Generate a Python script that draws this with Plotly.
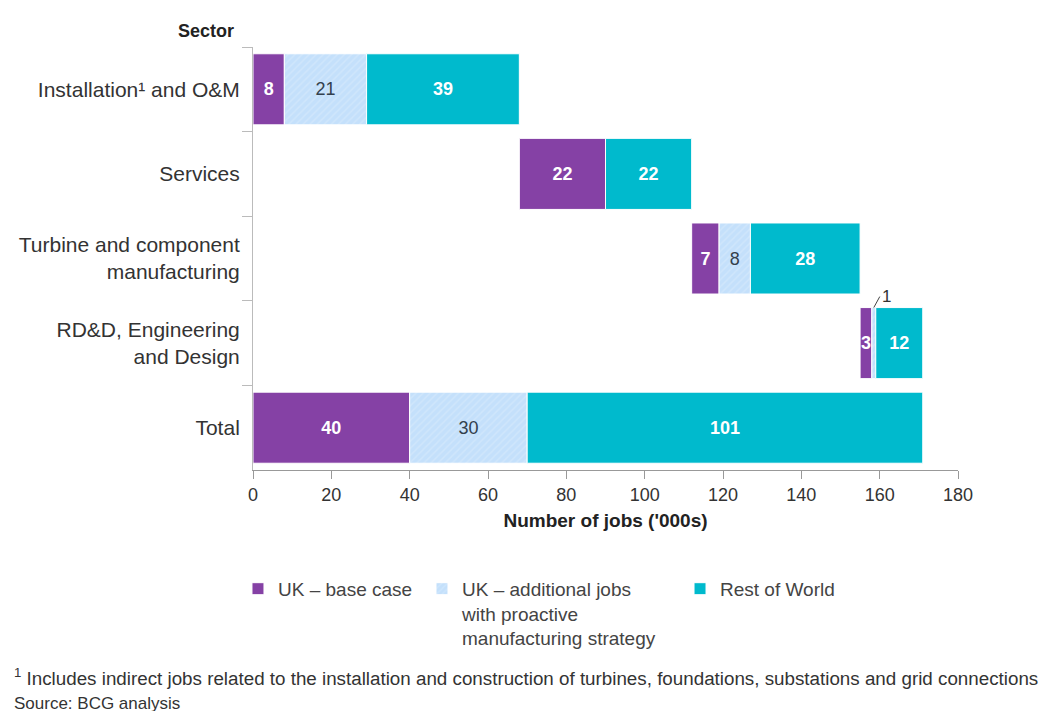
import plotly.graph_objects as go

categories = ["Installation¹ and O&M", "Services", "Turbine and component<br>manufacturing",
              "RD&D, Engineering<br>and Design", "Total"]
uk_base = [8, 22, 7, 3, 40]
uk_additional = [21, 0, 8, 1, 30]
rest_of_world = [39, 22, 28, 12, 101]
series_names = ["UK – base case", "UK – additional jobs<br>with proactive<br>manufacturing strategy", "Rest of World"]
x_ticks = [0, 20, 40, 60, 80, 100, 120, 140, 160, 180]

# waterfall offsets: each sector starts where previous sector ends; Total starts at 0
starts = []
running = 0
for i in range(len(categories) - 1):
    starts.append(running)
    running += uk_base[i] + uk_additional[i] + rest_of_world[i]
starts.append(0)

base1 = starts
base2 = [s + a for s, a in zip(starts, uk_base)]
base3 = [s + a + b for s, a, b in zip(starts, uk_base, uk_additional)]

PURPLE = "#8541a5"
LIGHT = "#c4e0fb"
TEAL = "#00bacd"
BAR_W = 0.84
FONT = "Liberation Sans, Arial, sans-serif"

fig = go.Figure()
fig.add_trace(go.Bar(
    y=categories, x=uk_base, base=base1, orientation="h", name=series_names[0],
    marker=dict(color=PURPLE, line=dict(color="white", width=1)), width=BAR_W,
    text=[str(v) for v in uk_base], textposition="inside", insidetextanchor="middle",
    constraintext="none", textangle=0, legend="legend",
    insidetextfont=dict(color="white", size=18, family=FONT, weight="bold"),
))
fig.add_trace(go.Bar(
    y=categories, x=uk_additional, base=base2, orientation="h", name=series_names[1],
    marker=dict(color=LIGHT, line=dict(color="white", width=1),
                pattern=dict(shape="/", fgcolor="#d9ecfd", bgcolor=LIGHT, size=5, solidity=0.3)),
    width=BAR_W, legend="legend2",
    text=[str(v) if v > 1 else "" for v in uk_additional], textposition="inside",
    insidetextanchor="middle", constraintext="none", textangle=0,
    insidetextfont=dict(color="#33404d", size=18, family=FONT),
))
fig.add_trace(go.Bar(
    y=categories, x=rest_of_world, base=base3, orientation="h", name=series_names[2],
    marker=dict(color=TEAL, line=dict(color="white", width=1)), width=BAR_W,
    text=[str(v) for v in rest_of_world], textposition="inside", insidetextanchor="middle",
    constraintext="none", textangle=0, legend="legend3",
    insidetextfont=dict(color="white", size=18, family=FONT, weight="bold"),
))

# small value label with leader for RD&D additional jobs
idx = 3
fig.add_annotation(
    x=base2[idx] + uk_additional[idx] / 2, y=idx - BAR_W / 2,
    text=str(uk_additional[idx]), showarrow=True, arrowhead=0, arrowwidth=1,
    arrowcolor="#444", ax=6, ay=-11, xanchor="left", yanchor="middle",
    font=dict(size=17, color="#333", family=FONT), xref="x", yref="y",
)

fig.add_annotation(
    text="<b>Sector</b>", xref="paper", yref="paper", x=-0.024, y=1.038,
    xanchor="right", yanchor="middle", showarrow=False,
    font=dict(size=18, color="#222", family=FONT),
)
fig.add_annotation(
    text="<sup>1</sup> Includes indirect jobs related to the installation and construction of turbines, foundations, substations and grid connections",
    xref="paper", yref="paper", x=-0.342, y=-0.489, xanchor="left", yanchor="middle",
    showarrow=False, font=dict(size=18.8, color="#333", family=FONT),
)
fig.add_annotation(
    text="Source: BCG analysis", xref="paper", yref="paper", x=-0.342, y=-0.551,
    xanchor="left", yanchor="middle", showarrow=False,
    font=dict(size=17, color="#333", family=FONT),
)

legend_common = dict(orientation="v", yanchor="top", xanchor="left", valign="top",
                     font=dict(size=19, color="#444", family=FONT), itemclick=False,
                     bgcolor="rgba(0,0,0,0)", y=-0.236)
fig.update_layout(
    width=1048, height=711,
    margin=dict(l=245, r=98, t=39, b=249),
    barmode="overlay",
    plot_bgcolor="white", paper_bgcolor="white",
    showlegend=True,
    legend=dict(x=-0.0213, **legend_common),
    legend2=dict(x=0.2397, **legend_common),
    legend3=dict(x=0.6057, **legend_common),
    font=dict(family=FONT, color="#333"),
)
fig.update_xaxes(
    range=[0, 180], tickvals=x_ticks, ticktext=[str(t) for t in x_ticks],
    showgrid=False, zeroline=False, showline=True, linecolor="#999", linewidth=1,
    ticks="outside", ticklen=8, tickcolor="#999",
    tickfont=dict(size=18, color="#333", family=FONT),
    title=dict(text="<b>Number of jobs ('000s)</b>", font=dict(size=19, color="#222", family=FONT), standoff=10),
)
fig.update_yaxes(
    autorange="reversed", showgrid=False, showline=True, linecolor="#bbb", linewidth=1,
    ticks="outside", ticklen=10, tickcolor="#bbb", tickson="boundaries",
    ticklabelstandoff=8,
    tickfont=dict(size=21, color="#333", family=FONT),
)

fig.write_html("out.html")
